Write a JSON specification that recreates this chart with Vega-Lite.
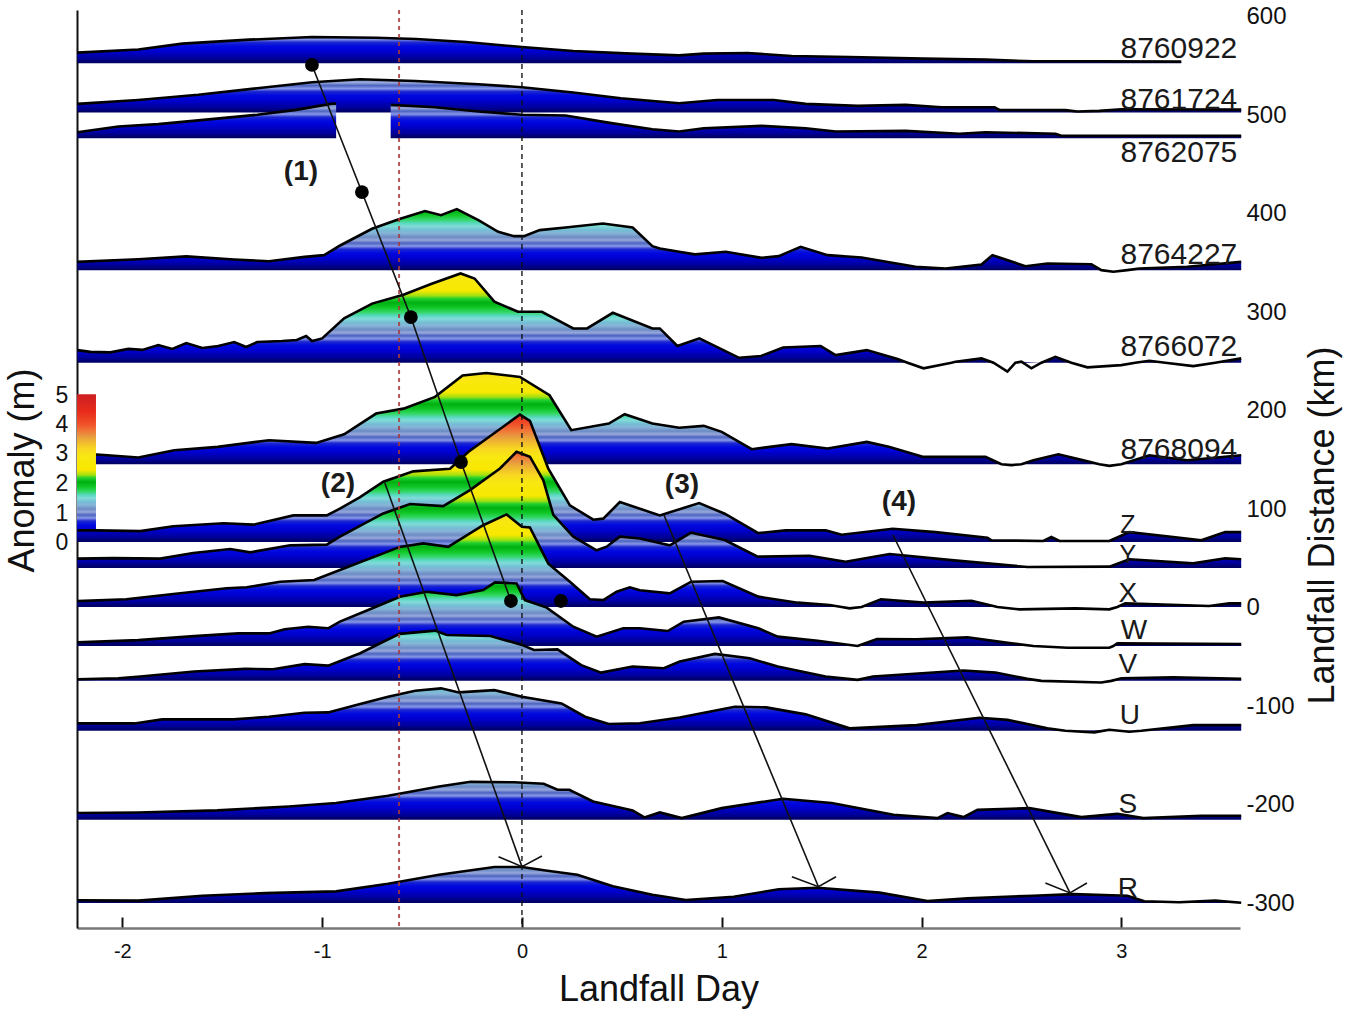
{"$schema":"https://vega.github.io/schema/vega-lite/v6.json","autosize":{"type":"none"},"padding":{"left":77,"top":10,"right":110,"bottom":87},"width":1163,"height":918,"background":"white","config":{"view":{"stroke":null},"font":"Liberation Sans"},
"datasets":{
"8760922":[{"d":-2.225,"km":563.8},{"d":-1.92,"km":567},{"d":-1.7,"km":573},{"d":-1.365,"km":577},{"d":-1.05,"km":579.7},{"d":-0.73,"km":579},{"d":-0.53,"km":577.7},{"d":-0.28,"km":574.6},{"d":0,"km":569.5},{"d":0.257,"km":565.5},{"d":0.55,"km":562.8},{"d":0.787,"km":561},{"d":0.91,"km":562.8},{"d":1.13,"km":563.5},{"d":1.35,"km":560.4},{"d":1.64,"km":559.4},{"d":2.01,"km":557.7},{"d":2.32,"km":556.7},{"d":2.56,"km":555},{"d":2.89,"km":555},{"d":3.3,"km":554.7}],
"8761724":[{"d":-2.225,"km":511.8},{"d":-1.92,"km":515.8},{"d":-1.62,"km":521},{"d":-1.325,"km":527.7},{"d":-1.05,"km":533.8},{"d":-0.81,"km":536.8},{"d":-0.534,"km":535},{"d":-0.218,"km":531.7},{"d":0,"km":528.7},{"d":0.257,"km":523.3},{"d":0.495,"km":517.5},{"d":0.787,"km":512.5},{"d":0.977,"km":515.8},{"d":1.26,"km":515.8},{"d":1.42,"km":511.8},{"d":1.68,"km":509.8},{"d":1.92,"km":510.8},{"d":2.1,"km":508.4},{"d":2.365,"km":508.4},{"d":2.39,"km":505.7},{"d":2.72,"km":505.4},{"d":2.78,"km":504},{"d":2.89,"km":504.7},{"d":3.0,"km":506.4},{"d":3.6,"km":506}],
"8762075a":[{"d":-2.225,"km":483},{"d":-2.02,"km":488.8},{"d":-1.82,"km":491.2},{"d":-1.62,"km":495},{"d":-1.325,"km":500.7},{"d":-1.13,"km":505.7},{"d":-0.95,"km":512},{"d":-0.93,"km":512}],
"8762075b":[{"d":-0.657,"km":510.8},{"d":-0.435,"km":508.4},{"d":-0.218,"km":504},{"d":0,"km":500.7},{"d":0.218,"km":500},{"d":0.455,"km":492},{"d":0.653,"km":486},{"d":0.787,"km":483.8},{"d":0.91,"km":487},{"d":1.2,"km":489.5},{"d":1.42,"km":487},{"d":1.57,"km":483.8},{"d":1.92,"km":484.4},{"d":2.19,"km":481.4},{"d":2.32,"km":483},{"d":2.67,"km":481.4},{"d":2.7,"km":479.4},{"d":3.6,"km":479.4}],
"8764227":[{"d":-2.225,"km":351.4},{"d":-1.92,"km":354},{"d":-1.68,"km":357},{"d":-1.44,"km":353.8},{"d":-1.266,"km":352},{"d":-1.088,"km":356.5},{"d":-0.99,"km":358.2},{"d":-0.91,"km":368},{"d":-0.75,"km":385},{"d":-0.613,"km":395},{"d":-0.485,"km":403},{"d":-0.405,"km":398.8},{"d":-0.326,"km":405},{"d":-0.218,"km":393.7},{"d":-0.119,"km":381.9},{"d":-0.04,"km":377.5},{"d":0.01,"km":377.5},{"d":0.089,"km":383.6},{"d":0.218,"km":386.3},{"d":0.405,"km":390.3},{"d":0.554,"km":386.3},{"d":0.653,"km":367.3},{"d":0.69,"km":365},{"d":0.787,"km":361.6},{"d":0.866,"km":359},{"d":1.02,"km":361.6},{"d":1.2,"km":355.5},{"d":1.285,"km":357.2},{"d":1.395,"km":366.7},{"d":1.53,"km":358.2},{"d":1.7,"km":355.8},{"d":1.97,"km":346.4},{"d":2.12,"km":344.7},{"d":2.3,"km":348.7},{"d":2.355,"km":358.2},{"d":2.52,"km":347},{"d":2.63,"km":349.8},{"d":2.85,"km":349},{"d":2.9,"km":343},{"d":2.96,"km":341.3},{"d":3.03,"km":343},{"d":3.09,"km":344.7},{"d":3.33,"km":346.4},{"d":3.6,"km":351.4}],
"8766072":[{"d":-2.225,"km":261.8},{"d":-2.16,"km":260},{"d":-2.06,"km":259.5},{"d":-1.97,"km":263},{"d":-1.9,"km":262},{"d":-1.82,"km":267},{"d":-1.75,"km":263},{"d":-1.68,"km":269},{"d":-1.6,"km":264},{"d":-1.52,"km":266},{"d":-1.44,"km":270},{"d":-1.38,"km":265},{"d":-1.325,"km":270},{"d":-1.2,"km":271},{"d":-1.127,"km":272},{"d":-1.08,"km":276},{"d":-1.05,"km":271},{"d":-1.0,"km":273.7},{"d":-0.89,"km":294},{"d":-0.75,"km":309},{"d":-0.593,"km":318},{"d":-0.455,"km":329},{"d":-0.307,"km":339.6},{"d":-0.237,"km":334.5},{"d":-0.138,"km":311},{"d":-0.02,"km":300.7},{"d":0.1,"km":300.7},{"d":0.257,"km":283.8},{"d":0.326,"km":283.8},{"d":0.455,"km":299.7},{"d":0.653,"km":283.8},{"d":0.69,"km":283.8},{"d":0.778,"km":266},{"d":0.888,"km":273.7},{"d":1.087,"km":254},{"d":1.197,"km":255.8},{"d":1.307,"km":264.5},{"d":1.495,"km":266},{"d":1.57,"km":256.8},{"d":1.726,"km":261.8},{"d":1.88,"km":252.7},{"d":1.93,"km":249},{"d":2.01,"km":243.3},{"d":2.15,"km":249},{"d":2.17,"km":250},{"d":2.3,"km":253.4},{"d":2.36,"km":249},{"d":2.43,"km":240},{"d":2.47,"km":249},{"d":2.5,"km":250},{"d":2.55,"km":243.3},{"d":2.6,"km":249},{"d":2.67,"km":255},{"d":2.75,"km":249},{"d":2.83,"km":244.3},{"d":3.0,"km":246.6},{"d":3.07,"km":249},{"d":3.14,"km":251},{"d":3.22,"km":249},{"d":3.36,"km":245.6},{"d":3.47,"km":249},{"d":3.6,"km":253.4}],
"8768094":[{"d":-2.225,"km":155.8},{"d":-2.127,"km":155.8},{"d":-1.92,"km":152.8},{"d":-1.74,"km":160.2},{"d":-1.523,"km":163.6},{"d":-1.266,"km":170.3},{"d":-1.03,"km":167.6},{"d":-0.89,"km":176.4},{"d":-0.73,"km":197.4},{"d":-0.593,"km":202.4},{"d":-0.435,"km":214.3},{"d":-0.297,"km":236},{"d":-0.178,"km":238.6},{"d":-0.01,"km":234.6},{"d":0.138,"km":216},{"d":0.247,"km":180.5},{"d":0.435,"km":187.2},{"d":0.514,"km":196.7},{"d":0.653,"km":187.2},{"d":0.787,"km":183},{"d":0.91,"km":184.9},{"d":1.0,"km":178.8},{"d":1.15,"km":161.2},{"d":1.35,"km":166.3},{"d":1.53,"km":161.9},{"d":1.726,"km":168.6},{"d":1.836,"km":163.6},{"d":2.01,"km":153.4},{"d":2.32,"km":153.4},{"d":2.4,"km":146},{"d":2.45,"km":145},{"d":2.5,"km":146},{"d":2.56,"km":150},{"d":2.685,"km":156},{"d":2.81,"km":150},{"d":2.89,"km":146},{"d":2.94,"km":144.3},{"d":3.0,"km":146},{"d":3.14,"km":155},{"d":3.33,"km":150},{"d":3.6,"km":155}],
"Z":[{"d":-2.225,"km":78.8},{"d":-2.13,"km":78.8},{"d":-1.91,"km":78},{"d":-1.745,"km":83},{"d":-1.494,"km":86},{"d":-1.344,"km":84.6},{"d":-1.144,"km":94},{"d":-0.977,"km":94},{"d":-0.911,"km":100.8},{"d":-0.81,"km":112.6},{"d":-0.694,"km":128.2},{"d":-0.544,"km":138.7},{"d":-0.36,"km":141.4},{"d":-0.269,"km":158.3},{"d":-0.01,"km":196.4},{"d":0.04,"km":190},{"d":0.132,"km":141.4},{"d":0.24,"km":104.2},{"d":0.357,"km":89.6},{"d":0.407,"km":90.7},{"d":0.49,"km":107.6},{"d":0.69,"km":94},{"d":0.887,"km":106.5},{"d":1.015,"km":95.7},{"d":1.183,"km":76},{"d":1.32,"km":78.8},{"d":1.52,"km":78.8},{"d":1.6,"km":74.4},{"d":1.856,"km":80.5},{"d":2.07,"km":77},{"d":2.33,"km":71.4},{"d":2.35,"km":68.7},{"d":2.61,"km":68},{"d":2.65,"km":72},{"d":2.69,"km":68},{"d":2.94,"km":68},{"d":3.04,"km":77},{"d":3.26,"km":72},{"d":3.4,"km":68.7},{"d":3.52,"km":77},{"d":3.6,"km":77}],
"Y":[{"d":-2.225,"km":50.1},{"d":-2.045,"km":50.6},{"d":-1.81,"km":50.1},{"d":-1.645,"km":55.8},{"d":-1.46,"km":59.9},{"d":-1.36,"km":56.5},{"d":-1.16,"km":63.6},{"d":-0.977,"km":64.3},{"d":-0.911,"km":72.4},{"d":-0.694,"km":96},{"d":-0.56,"km":105.5},{"d":-0.394,"km":103.4},{"d":-0.26,"km":119.6},{"d":-0.11,"km":141.6},{"d":-0.027,"km":158.6},{"d":0.04,"km":153.6},{"d":0.107,"km":129.6},{"d":0.157,"km":94.6},{"d":0.257,"km":72.4},{"d":0.374,"km":58.6},{"d":0.424,"km":62.2},{"d":0.49,"km":72.4},{"d":0.59,"km":70.6},{"d":0.74,"km":63.6},{"d":0.847,"km":76.4},{"d":1.015,"km":69},{"d":1.18,"km":52.1},{"d":1.44,"km":53.1},{"d":1.62,"km":47},{"d":1.84,"km":54.8},{"d":2.15,"km":48.6},{"d":2.53,"km":41.6},{"d":2.94,"km":42},{"d":3.04,"km":49.4},{"d":3.36,"km":45.3},{"d":3.52,"km":50.4},{"d":3.6,"km":49.4}],
"X":[{"d":-2.225,"km":7},{"d":-1.98,"km":8.8},{"d":-1.745,"km":14.2},{"d":-1.478,"km":20},{"d":-1.378,"km":21},{"d":-1.21,"km":26.7},{"d":-1.04,"km":28.4},{"d":-0.911,"km":38.5},{"d":-0.611,"km":62},{"d":-0.494,"km":65.6},{"d":-0.369,"km":62},{"d":-0.194,"km":84},{"d":-0.077,"km":95},{"d":0,"km":82.5},{"d":0.04,"km":81.8},{"d":0.132,"km":45},{"d":0.24,"km":26.7},{"d":0.34,"km":8.8},{"d":0.407,"km":8},{"d":0.474,"km":16.5},{"d":0.54,"km":21},{"d":0.59,"km":18},{"d":0.74,"km":14.9},{"d":0.847,"km":26.7},{"d":1.005,"km":27.4},{"d":1.183,"km":11.5},{"d":1.38,"km":5.4},{"d":1.54,"km":3},{"d":1.6,"km":1},{"d":1.64,"km":-0.4},{"d":1.7,"km":1},{"d":1.797,"km":8.8},{"d":2.01,"km":5.4},{"d":2.25,"km":7.4},{"d":2.38,"km":1},{"d":2.49,"km":-1.4},{"d":2.77,"km":-0.4},{"d":2.94,"km":-1.4},{"d":2.98,"km":1},{"d":3.02,"km":4.7},{"d":3.44,"km":2},{"d":3.54,"km":4.7},{"d":3.6,"km":4.7}],
"W":[{"d":-2.225,"km":-34.9},{"d":-1.92,"km":-32.6},{"d":-1.64,"km":-28.6},{"d":-1.42,"km":-25.8},{"d":-1.266,"km":-25.8},{"d":-1.187,"km":-21.6},{"d":-1.07,"km":-19},{"d":-0.97,"km":-20.6},{"d":-0.911,"km":-13.9},{"d":-0.77,"km":-2.1},{"d":-0.67,"km":6.4},{"d":-0.611,"km":11.4},{"d":-0.477,"km":16.4},{"d":-0.327,"km":13.1},{"d":-0.194,"km":18.2},{"d":-0.135,"km":26},{"d":-0.027,"km":24.9},{"d":0.015,"km":8},{"d":0.124,"km":0.4},{"d":0.257,"km":-19},{"d":0.374,"km":-29.1},{"d":0.507,"km":-20.6},{"d":0.59,"km":-20.6},{"d":0.73,"km":-23.4},{"d":0.81,"km":-13.9},{"d":0.986,"km":-9.6},{"d":1.183,"km":-20.6},{"d":1.28,"km":-29.1},{"d":1.48,"km":-33.2},{"d":1.68,"km":-38.6},{"d":1.777,"km":-31.6},{"d":1.975,"km":-31.8},{"d":2.23,"km":-29.8},{"d":2.45,"km":-35.9},{"d":2.56,"km":-38.6},{"d":2.73,"km":-40.3},{"d":2.94,"km":-40.3},{"d":2.96,"km":-38.6},{"d":2.98,"km":-35.9},{"d":3.6,"km":-36.6}],
"V":[{"d":-2.225,"km":-72.3},{"d":-2.02,"km":-71.3},{"d":-1.91,"km":-69.6},{"d":-1.64,"km":-64.5},{"d":-1.385,"km":-61.8},{"d":-1.246,"km":-62.2},{"d":-1.088,"km":-57},{"d":-0.97,"km":-58.5},{"d":-0.81,"km":-46},{"d":-0.613,"km":-26.3},{"d":-0.435,"km":-23},{"d":-0.376,"km":-27.4},{"d":-0.158,"km":-28.4},{"d":0,"km":-37.5},{"d":0.06,"km":-42.6},{"d":0.178,"km":-42},{"d":0.297,"km":-58},{"d":0.396,"km":-65.6},{"d":0.554,"km":-59.5},{"d":0.71,"km":-61.2},{"d":0.79,"km":-54.4},{"d":0.966,"km":-46.6},{"d":1.14,"km":-51},{"d":1.28,"km":-59.5},{"d":1.52,"km":-69.6},{"d":1.68,"km":-73},{"d":1.757,"km":-69.6},{"d":2.21,"km":-63.5},{"d":2.37,"km":-65.6},{"d":2.53,"km":-72},{"d":2.6,"km":-74},{"d":2.9,"km":-75.7},{"d":2.95,"km":-74},{"d":3.0,"km":-71.3},{"d":3.26,"km":-70.3},{"d":3.6,"km":-72}],
"U":[{"d":-2.225,"km":-117.2},{"d":-1.94,"km":-117.2},{"d":-1.8,"km":-113.1},{"d":-1.444,"km":-113.1},{"d":-1.266,"km":-110.4},{"d":-1.088,"km":-106.3},{"d":-0.97,"km":-106},{"d":-0.81,"km":-97.6},{"d":-0.67,"km":-90.1},{"d":-0.534,"km":-84},{"d":-0.405,"km":-81.6},{"d":-0.316,"km":-85.7},{"d":-0.138,"km":-83.4},{"d":0,"km":-90.1},{"d":0.198,"km":-96.9},{"d":0.316,"km":-110.4},{"d":0.435,"km":-117.8},{"d":0.59,"km":-117},{"d":0.79,"km":-111.1},{"d":1.065,"km":-100.3},{"d":1.223,"km":-100.9},{"d":1.42,"km":-108},{"d":1.64,"km":-122.2},{"d":1.975,"km":-118.9},{"d":2.29,"km":-111.4},{"d":2.43,"km":-113.6},{"d":2.63,"km":-122.2},{"d":2.72,"km":-124.6},{"d":2.865,"km":-126.3},{"d":2.94,"km":-123.6},{"d":3.04,"km":-125.6},{"d":3.1,"km":-124.6},{"d":3.36,"km":-118.9},{"d":3.6,"km":-118.9}],
"S":[{"d":-2.225,"km":-208.2},{"d":-1.92,"km":-207.6},{"d":-1.525,"km":-205.5},{"d":-1.167,"km":-201.5},{"d":-0.93,"km":-198},{"d":-0.67,"km":-190.7},{"d":-0.415,"km":-181.2},{"d":-0.257,"km":-176.5},{"d":-0.04,"km":-177},{"d":0.109,"km":-178.5},{"d":0.178,"km":-184.6},{"d":0.237,"km":-184.6},{"d":0.356,"km":-196.4},{"d":0.554,"km":-205.5},{"d":0.613,"km":-212.6},{"d":0.69,"km":-207.6},{"d":0.8,"km":-213.3},{"d":1.0,"km":-203.2},{"d":1.307,"km":-193.7},{"d":1.55,"km":-198},{"d":1.86,"km":-210},{"d":2.08,"km":-213.3},{"d":2.13,"km":-208.2},{"d":2.21,"km":-212.3},{"d":2.28,"km":-205},{"d":2.54,"km":-203.2},{"d":2.8,"km":-212.3},{"d":2.98,"km":-209},{"d":3.11,"km":-213.3},{"d":3.4,"km":-211},{"d":3.6,"km":-211}],
"R":[{"d":-2.225,"km":-296.8},{"d":-1.92,"km":-297.1},{"d":-1.6,"km":-292.1},{"d":-1.286,"km":-289.5},{"d":-0.93,"km":-287.7},{"d":-0.67,"km":-279.9},{"d":-0.415,"km":-270.8},{"d":-0.138,"km":-263},{"d":0,"km":-263},{"d":0.119,"km":-266.5},{"d":0.277,"km":-270.8},{"d":0.455,"km":-282.5},{"d":0.653,"km":-291.1},{"d":0.82,"km":-296.5},{"d":1.06,"km":-293.1},{"d":1.285,"km":-285.6},{"d":1.48,"km":-284},{"d":1.79,"km":-289},{"d":2.03,"km":-297.5},{"d":2.23,"km":-294.8},{"d":2.56,"km":-292.1},{"d":2.76,"km":-290.5},{"d":3.03,"km":-292.1},{"d":3.115,"km":-297.8},{"d":3.29,"km":-298.8},{"d":3.47,"km":-297.1},{"d":3.6,"km":-299.2}],
"tracks":[{"t":"1","d":-1.051,"km":551.3},{"t":"1","d":-0.801,"km":422.3},{"t":"1","d":-0.556,"km":295.4},{"t":"1","d":-0.305,"km":148.2},{"t":"1","d":-0.055,"km":7.1},{"t":"2","d":-0.686,"km":126.9},{"t":"2","d":0,"km":-262.6},{"t":"3","d":0.711,"km":94.4},{"t":"3","d":1.484,"km":-283},{"t":"4","d":1.857,"km":74.1},{"t":"4","d":2.743,"km":-289.3},{"t":"2a","d":-0.117,"km":-252.5},{"t":"2a","d":0,"km":-262.6},{"t":"2a","d":0.1,"km":-251.8},{"t":"3a","d":1.351,"km":-272.8},{"t":"3a","d":1.484,"km":-283},{"t":"3a","d":1.572,"km":-272.8},{"t":"4a","d":2.62,"km":-279.2},{"t":"4a","d":2.743,"km":-289.3},{"t":"4a","d":2.828,"km":-279.2}],
"dots":[{"d":-1.051,"km":551.3},{"d":-0.801,"km":422.3},{"d":-0.556,"km":295.4},{"d":-0.305,"km":148.2},{"d":-0.055,"km":7.1},{"d":0.195,"km":7.1}],
"stations":[{"t":"8760922","d":3.288,"km":567.5},{"t":"8761724","d":3.288,"km":515.7},{"t":"8762075","d":3.288,"km":461.9},{"t":"8764227","d":3.288,"km":358.4},{"t":"8766072","d":3.288,"km":265},{"t":"8768094","d":3.288,"km":160.4}],
"lettersZY":[{"t":"Z","d":3.033,"km":84},{"t":"Y","d":3.033,"km":54}],
"letters":[{"t":"X","d":3.033,"km":14.2},{"t":"W","d":3.063,"km":-23.4},{"t":"V","d":3.033,"km":-57.9},{"t":"U","d":3.043,"km":-109.6},{"t":"S","d":3.033,"km":-200},{"t":"R","d":3.033,"km":-285.3}],
"notes":[{"t":"(1)","d":-1.106,"km":442.6},{"t":"(2)","d":-0.921,"km":125.9},{"t":"(3)","d":0.801,"km":124.9},{"t":"(4)","d":1.887,"km":107.6}],
"barlabels":[{"t":"5","d":-2.302,"km":215.2},{"t":"4","d":-2.302,"km":185.8},{"t":"3","d":-2.302,"km":156.3},{"t":"2","d":-2.302,"km":125.9},{"t":"1","d":-2.302,"km":95.4},{"t":"0","d":-2.302,"km":66}]
},
"encoding":{"x":{"field":"d","type":"quantitative","scale":{"domain":[-2.227,3.594],"nice":false,"zero":false},"axis":{"title":"Landfall Day","values":[-2,-1,0,1,2,3],"labelExpr":"''+datum.value","grid":false,"domainColor":"#777777","domainWidth":2.5,"tickColor":"#111111","tickWidth":2,"tickSize":-11,"labelFontSize":20,"labelColor":"#111111","labelPadding":24,"labelFont":"Liberation Sans","titleFont":"Liberation Sans","titleFontSize":36,"titleFontWeight":"normal","titleColor":"#111111","titleY":72,"titleBaseline":"alphabetic"}},"y":{"field":"km","type":"quantitative","scale":{"domain":[-324.9,607.1],"nice":false,"zero":false},"axis":null}},
"resolve":{"axis":{"y":"independent"}},
"layer":[
{"data":{"name":"8760922"},"transform":[{"filter":{"field":"km","gte":553}}],"mark":{"type":"area","orient":"vertical","fill":{"gradient":"linear","x1":0,"y1":1,"x2":0,"y2":0,"stops":[{"offset":0,"color":"#000066"},{"offset":0.038,"color":"#000066"},{"offset":0.19,"color":"#00009a"},{"offset":0.342,"color":"#0000b8"},{"offset":0.456,"color":"#0000d0"},{"offset":0.646,"color":"#0008e0"},{"offset":0.798,"color":"#1c28d0"},{"offset":0.913,"color":"#8898e8"},{"offset":1,"color":"#5a70c8"}]}},"encoding":{"y":{"field":"km","type":"quantitative","scale":{"domain":[-324.9,607.1],"nice":false,"zero":false},"axis":{"orient":"left","title":"Anomaly (m)","labels":false,"ticks":false,"grid":false,"domainColor":"#111111","domainWidth":2,"titleFont":"Liberation Sans","titleFontSize":36,"titleFontWeight":"normal","titleColor":"#111111","titleAngle":270,"titleX":-55,"titleY":460,"titleAlign":"center","titleBaseline":"middle"}},"y2":{"datum":553}}},
{"data":{"name":"8760922"},"mark":{"type":"line","color":"#000000","strokeWidth":2.6},"encoding":{"y":{"field":"km","type":"quantitative","scale":{"domain":[-324.9,607.1],"nice":false,"zero":false},"axis":{"orient":"right","title":"Landfall Distance (km)","values":[-300,-200,-100,0,100,200,300,400,500,600],"labelExpr":"''+datum.value","ticks":false,"domain":false,"grid":false,"labelFont":"Liberation Sans","labelFontSize":24,"labelColor":"#111111","labelPadding":6,"labelAlign":"left","titleFont":"Liberation Sans","titleFontSize":36,"titleFontWeight":"normal","titleColor":"#111111","titleAngle":270,"titleX":82,"titleY":515,"titleAlign":"center","titleBaseline":"middle"}}}},
{"data":{"name":"8761724"},"transform":[{"filter":{"field":"km","gte":503}}],"mark":{"type":"area","orient":"vertical","fill":{"gradient":"linear","x1":0,"y1":1,"x2":0,"y2":0,"stops":[{"offset":0,"color":"#000066"},{"offset":0.03,"color":"#000066"},{"offset":0.15,"color":"#00009a"},{"offset":0.27,"color":"#0000b8"},{"offset":0.36,"color":"#0000d0"},{"offset":0.51,"color":"#0008e0"},{"offset":0.63,"color":"#1c28d0"},{"offset":0.72,"color":"#8898e8"},{"offset":0.81,"color":"#4c64c0"},{"offset":0.9,"color":"#98a8dc"},{"offset":0.99,"color":"#6c8cc4"},{"offset":1,"color":"#6c8cc4"}]}},"encoding":{"y2":{"datum":503}}},
{"data":{"name":"8761724"},"mark":{"type":"line","color":"#000000","strokeWidth":2.6}},
{"data":{"name":"8762075a"},"transform":[{"filter":{"field":"km","gte":477}}],"mark":{"type":"area","orient":"vertical","fill":{"gradient":"linear","x1":0,"y1":1,"x2":0,"y2":0,"stops":[{"offset":0,"color":"#000066"},{"offset":0.029,"color":"#000066"},{"offset":0.145,"color":"#00009a"},{"offset":0.261,"color":"#0000b8"},{"offset":0.348,"color":"#0000d0"},{"offset":0.493,"color":"#0008e0"},{"offset":0.609,"color":"#1c28d0"},{"offset":0.696,"color":"#8898e8"},{"offset":0.783,"color":"#4c64c0"},{"offset":0.87,"color":"#98a8dc"},{"offset":0.957,"color":"#6c8cc4"},{"offset":1,"color":"#7a9ccc"}]}},"encoding":{"y2":{"datum":477}}},
{"data":{"name":"8762075a"},"mark":{"type":"line","color":"#000000","strokeWidth":2.6}},
{"data":{"name":"8762075b"},"transform":[{"filter":{"field":"km","gte":477}}],"mark":{"type":"area","orient":"vertical","fill":{"gradient":"linear","x1":0,"y1":1,"x2":0,"y2":0,"stops":[{"offset":0,"color":"#000066"},{"offset":0.03,"color":"#000066"},{"offset":0.15,"color":"#00009a"},{"offset":0.27,"color":"#0000b8"},{"offset":0.36,"color":"#0000d0"},{"offset":0.51,"color":"#0008e0"},{"offset":0.63,"color":"#1c28d0"},{"offset":0.72,"color":"#8898e8"},{"offset":0.81,"color":"#4c64c0"},{"offset":0.9,"color":"#98a8dc"},{"offset":0.99,"color":"#6c8cc4"},{"offset":1,"color":"#6c8cc4"}]}},"encoding":{"y2":{"datum":477}}},
{"data":{"name":"8762075b"},"mark":{"type":"line","color":"#000000","strokeWidth":2.6}},
{"data":{"name":"8764227"},"transform":[{"filter":{"field":"km","gte":343}}],"mark":{"type":"area","orient":"vertical","fill":{"gradient":"linear","x1":0,"y1":1,"x2":0,"y2":0,"stops":[{"offset":0,"color":"#000066"},{"offset":0.016,"color":"#000066"},{"offset":0.082,"color":"#00009a"},{"offset":0.147,"color":"#0000b8"},{"offset":0.196,"color":"#0000d0"},{"offset":0.278,"color":"#0008e0"},{"offset":0.344,"color":"#1c28d0"},{"offset":0.393,"color":"#8898e8"},{"offset":0.442,"color":"#4c64c0"},{"offset":0.491,"color":"#98a8dc"},{"offset":0.54,"color":"#6c8cc4"},{"offset":0.606,"color":"#88b4d8"},{"offset":0.655,"color":"#74bcd4"},{"offset":0.72,"color":"#80dcd8"},{"offset":0.769,"color":"#58d8c0"},{"offset":0.818,"color":"#38d870"},{"offset":0.9,"color":"#10c828"},{"offset":0.982,"color":"#00b010"},{"offset":1,"color":"#00b010"}]}},"encoding":{"y2":{"datum":343}}},
{"data":{"name":"8764227"},"mark":{"type":"line","color":"#000000","strokeWidth":2.6}},
{"data":{"name":"8766072"},"transform":[{"filter":{"field":"km","gte":249}}],"mark":{"type":"area","orient":"vertical","fill":{"gradient":"linear","x1":0,"y1":1,"x2":0,"y2":0,"stops":[{"offset":0,"color":"#000066"},{"offset":0.011,"color":"#000066"},{"offset":0.056,"color":"#00009a"},{"offset":0.101,"color":"#0000b8"},{"offset":0.135,"color":"#0000d0"},{"offset":0.191,"color":"#0008e0"},{"offset":0.235,"color":"#1c28d0"},{"offset":0.269,"color":"#8898e8"},{"offset":0.303,"color":"#4c64c0"},{"offset":0.336,"color":"#98a8dc"},{"offset":0.37,"color":"#6c8cc4"},{"offset":0.415,"color":"#88b4d8"},{"offset":0.448,"color":"#74bcd4"},{"offset":0.493,"color":"#80dcd8"},{"offset":0.527,"color":"#58d8c0"},{"offset":0.561,"color":"#38d870"},{"offset":0.617,"color":"#10c828"},{"offset":0.673,"color":"#00b010"},{"offset":0.717,"color":"#20d030"},{"offset":0.751,"color":"#a0e010"},{"offset":0.807,"color":"#f8e800"},{"offset":0.953,"color":"#f8e810"},{"offset":1,"color":"#f8e010"}]}},"encoding":{"y2":{"datum":249}}},
{"data":{"name":"8766072"},"mark":{"type":"line","color":"#000000","strokeWidth":2.6}},
{"data":{"name":"8768094"},"transform":[{"filter":{"field":"km","gte":146}}],"mark":{"type":"area","orient":"vertical","fill":{"gradient":"linear","x1":0,"y1":1,"x2":0,"y2":0,"stops":[{"offset":0,"color":"#000066"},{"offset":0.011,"color":"#000066"},{"offset":0.055,"color":"#00009a"},{"offset":0.099,"color":"#0000b8"},{"offset":0.132,"color":"#0000d0"},{"offset":0.186,"color":"#0008e0"},{"offset":0.23,"color":"#1c28d0"},{"offset":0.263,"color":"#8898e8"},{"offset":0.296,"color":"#4c64c0"},{"offset":0.329,"color":"#98a8dc"},{"offset":0.362,"color":"#6c8cc4"},{"offset":0.406,"color":"#88b4d8"},{"offset":0.439,"color":"#74bcd4"},{"offset":0.482,"color":"#80dcd8"},{"offset":0.515,"color":"#58d8c0"},{"offset":0.548,"color":"#38d870"},{"offset":0.603,"color":"#10c828"},{"offset":0.658,"color":"#00b010"},{"offset":0.702,"color":"#20d030"},{"offset":0.735,"color":"#a0e010"},{"offset":0.789,"color":"#f8e800"},{"offset":0.932,"color":"#f8e810"},{"offset":1,"color":"#f8dc18"}]}},"encoding":{"y2":{"datum":146}}},
{"data":{"name":"8768094"},"mark":{"type":"line","color":"#000000","strokeWidth":2.6}},
{"data":{"values":[{"d0":-2.227,"d1":-2.132,"k0":67,"k1":217}]},"mark":{"type":"rect","fill":{"gradient":"linear","x1":0,"y1":1,"x2":0,"y2":0,"stops":[{"offset":0,"color":"#000066"},{"offset":0.007,"color":"#000066"},{"offset":0.034,"color":"#00009a"},{"offset":0.061,"color":"#0000b8"},{"offset":0.081,"color":"#0000d0"},{"offset":0.115,"color":"#0008e0"},{"offset":0.142,"color":"#1c28d0"},{"offset":0.162,"color":"#8898e8"},{"offset":0.183,"color":"#4c64c0"},{"offset":0.203,"color":"#98a8dc"},{"offset":0.223,"color":"#6c8cc4"},{"offset":0.25,"color":"#88b4d8"},{"offset":0.27,"color":"#74bcd4"},{"offset":0.298,"color":"#80dcd8"},{"offset":0.318,"color":"#58d8c0"},{"offset":0.338,"color":"#38d870"},{"offset":0.372,"color":"#10c828"},{"offset":0.406,"color":"#00b010"},{"offset":0.433,"color":"#20d030"},{"offset":0.453,"color":"#a0e010"},{"offset":0.487,"color":"#f8e800"},{"offset":0.575,"color":"#f8e810"},{"offset":0.629,"color":"#f8d820"},{"offset":0.677,"color":"#f0b830"},{"offset":0.717,"color":"#e89840"},{"offset":0.751,"color":"#f07838"},{"offset":0.799,"color":"#f05028"},{"offset":0.88,"color":"#e82c1c"},{"offset":0.981,"color":"#d02020"},{"offset":1,"color":"#d02020"}]}},"encoding":{"x":{"field":"d0","type":"quantitative"},"x2":{"field":"d1"},"y":{"field":"k0","type":"quantitative","axis":null},"y2":{"field":"k1"}}},
{"data":{"name":"Z"},"transform":[{"filter":{"field":"km","gte":67}}],"mark":{"type":"area","orient":"vertical","fill":{"gradient":"linear","x1":0,"y1":1,"x2":0,"y2":0,"stops":[{"offset":0,"color":"#000066"},{"offset":0.008,"color":"#000066"},{"offset":0.039,"color":"#00009a"},{"offset":0.071,"color":"#0000b8"},{"offset":0.094,"color":"#0000d0"},{"offset":0.133,"color":"#0008e0"},{"offset":0.165,"color":"#1c28d0"},{"offset":0.188,"color":"#8898e8"},{"offset":0.212,"color":"#4c64c0"},{"offset":0.235,"color":"#98a8dc"},{"offset":0.259,"color":"#6c8cc4"},{"offset":0.29,"color":"#88b4d8"},{"offset":0.314,"color":"#74bcd4"},{"offset":0.345,"color":"#80dcd8"},{"offset":0.369,"color":"#58d8c0"},{"offset":0.392,"color":"#38d870"},{"offset":0.431,"color":"#10c828"},{"offset":0.471,"color":"#00b010"},{"offset":0.502,"color":"#20d030"},{"offset":0.525,"color":"#a0e010"},{"offset":0.565,"color":"#f8e800"},{"offset":0.667,"color":"#f8e810"},{"offset":0.729,"color":"#f8d820"},{"offset":0.784,"color":"#f0b830"},{"offset":0.831,"color":"#e89840"},{"offset":0.871,"color":"#f07838"},{"offset":0.925,"color":"#f05028"},{"offset":1,"color":"#e83020"}]}},"encoding":{"y2":{"datum":67}}},
{"data":{"name":"Z"},"mark":{"type":"line","color":"#000000","strokeWidth":2.6}},
{"data":{"name":"Y"},"transform":[{"filter":{"field":"km","gte":40.6}}],"mark":{"type":"area","orient":"vertical","fill":{"gradient":"linear","x1":0,"y1":1,"x2":0,"y2":0,"stops":[{"offset":0,"color":"#000066"},{"offset":0.009,"color":"#000066"},{"offset":0.043,"color":"#00009a"},{"offset":0.077,"color":"#0000b8"},{"offset":0.103,"color":"#0000d0"},{"offset":0.146,"color":"#0008e0"},{"offset":0.181,"color":"#1c28d0"},{"offset":0.207,"color":"#8898e8"},{"offset":0.232,"color":"#4c64c0"},{"offset":0.258,"color":"#98a8dc"},{"offset":0.284,"color":"#6c8cc4"},{"offset":0.318,"color":"#88b4d8"},{"offset":0.344,"color":"#74bcd4"},{"offset":0.379,"color":"#80dcd8"},{"offset":0.404,"color":"#58d8c0"},{"offset":0.43,"color":"#38d870"},{"offset":0.473,"color":"#10c828"},{"offset":0.516,"color":"#00b010"},{"offset":0.551,"color":"#20d030"},{"offset":0.577,"color":"#a0e010"},{"offset":0.62,"color":"#f8e800"},{"offset":0.731,"color":"#f8e810"},{"offset":0.8,"color":"#f8d820"},{"offset":0.861,"color":"#f0b830"},{"offset":0.912,"color":"#e89840"},{"offset":0.955,"color":"#f07838"},{"offset":1,"color":"#f05028"}]}},"encoding":{"y2":{"datum":40.6}}},
{"data":{"name":"Y"},"mark":{"type":"line","color":"#000000","strokeWidth":2.6}},
{"data":{"name":"X"},"transform":[{"filter":{"field":"km","gte":1}}],"mark":{"type":"area","orient":"vertical","fill":{"gradient":"linear","x1":0,"y1":1,"x2":0,"y2":0,"stops":[{"offset":0,"color":"#000066"},{"offset":0.011,"color":"#000066"},{"offset":0.054,"color":"#00009a"},{"offset":0.097,"color":"#0000b8"},{"offset":0.13,"color":"#0000d0"},{"offset":0.184,"color":"#0008e0"},{"offset":0.227,"color":"#1c28d0"},{"offset":0.259,"color":"#8898e8"},{"offset":0.292,"color":"#4c64c0"},{"offset":0.324,"color":"#98a8dc"},{"offset":0.356,"color":"#6c8cc4"},{"offset":0.4,"color":"#88b4d8"},{"offset":0.432,"color":"#74bcd4"},{"offset":0.475,"color":"#80dcd8"},{"offset":0.508,"color":"#58d8c0"},{"offset":0.54,"color":"#38d870"},{"offset":0.594,"color":"#10c828"},{"offset":0.648,"color":"#00b010"},{"offset":0.691,"color":"#20d030"},{"offset":0.724,"color":"#a0e010"},{"offset":0.778,"color":"#f8e800"},{"offset":0.918,"color":"#f8e810"},{"offset":1,"color":"#f8d820"}]}},"encoding":{"y2":{"datum":1}}},
{"data":{"name":"X"},"mark":{"type":"line","color":"#000000","strokeWidth":2.6}},
{"data":{"name":"W"},"transform":[{"filter":{"field":"km","gte":-38.6}}],"mark":{"type":"area","orient":"vertical","fill":{"gradient":"linear","x1":0,"y1":1,"x2":0,"y2":0,"stops":[{"offset":0,"color":"#000066"},{"offset":0.016,"color":"#000066"},{"offset":0.079,"color":"#00009a"},{"offset":0.142,"color":"#0000b8"},{"offset":0.189,"color":"#0000d0"},{"offset":0.267,"color":"#0008e0"},{"offset":0.33,"color":"#1c28d0"},{"offset":0.377,"color":"#8898e8"},{"offset":0.425,"color":"#4c64c0"},{"offset":0.472,"color":"#98a8dc"},{"offset":0.519,"color":"#6c8cc4"},{"offset":0.582,"color":"#88b4d8"},{"offset":0.629,"color":"#74bcd4"},{"offset":0.692,"color":"#80dcd8"},{"offset":0.739,"color":"#58d8c0"},{"offset":0.786,"color":"#38d870"},{"offset":0.865,"color":"#10c828"},{"offset":0.943,"color":"#00b010"},{"offset":1,"color":"#20d030"}]}},"encoding":{"y2":{"datum":-38.6}}},
{"data":{"name":"W"},"mark":{"type":"line","color":"#000000","strokeWidth":2.6}},
{"data":{"name":"V"},"transform":[{"filter":{"field":"km","gte":-74}}],"mark":{"type":"area","orient":"vertical","fill":{"gradient":"linear","x1":0,"y1":1,"x2":0,"y2":0,"stops":[{"offset":0,"color":"#000066"},{"offset":0.02,"color":"#000066"},{"offset":0.1,"color":"#00009a"},{"offset":0.179,"color":"#0000b8"},{"offset":0.239,"color":"#0000d0"},{"offset":0.339,"color":"#0008e0"},{"offset":0.418,"color":"#1c28d0"},{"offset":0.478,"color":"#8898e8"},{"offset":0.538,"color":"#4c64c0"},{"offset":0.598,"color":"#98a8dc"},{"offset":0.657,"color":"#6c8cc4"},{"offset":0.737,"color":"#88b4d8"},{"offset":0.797,"color":"#74bcd4"},{"offset":0.876,"color":"#80dcd8"},{"offset":0.936,"color":"#58d8c0"},{"offset":1,"color":"#38d870"}]}},"encoding":{"y2":{"datum":-74}}},
{"data":{"name":"V"},"mark":{"type":"line","color":"#000000","strokeWidth":2.6}},
{"data":{"name":"U"},"transform":[{"filter":{"field":"km","gte":-124.6}}],"mark":{"type":"area","orient":"vertical","fill":{"gradient":"linear","x1":0,"y1":1,"x2":0,"y2":0,"stops":[{"offset":0,"color":"#000066"},{"offset":0.024,"color":"#000066"},{"offset":0.118,"color":"#00009a"},{"offset":0.212,"color":"#0000b8"},{"offset":0.283,"color":"#0000d0"},{"offset":0.401,"color":"#0008e0"},{"offset":0.495,"color":"#1c28d0"},{"offset":0.566,"color":"#8898e8"},{"offset":0.637,"color":"#4c64c0"},{"offset":0.708,"color":"#98a8dc"},{"offset":0.778,"color":"#6c8cc4"},{"offset":0.873,"color":"#88b4d8"},{"offset":0.943,"color":"#74bcd4"},{"offset":1,"color":"#7cd0d6"}]}},"encoding":{"y2":{"datum":-124.6}}},
{"data":{"name":"U"},"mark":{"type":"line","color":"#000000","strokeWidth":2.6}},
{"data":{"name":"S"},"transform":[{"filter":{"field":"km","gte":-215}}],"mark":{"type":"area","orient":"vertical","fill":{"gradient":"linear","x1":0,"y1":1,"x2":0,"y2":0,"stops":[{"offset":0,"color":"#000066"},{"offset":0.026,"color":"#000066"},{"offset":0.132,"color":"#00009a"},{"offset":0.237,"color":"#0000b8"},{"offset":0.317,"color":"#0000d0"},{"offset":0.449,"color":"#0008e0"},{"offset":0.554,"color":"#1c28d0"},{"offset":0.633,"color":"#8898e8"},{"offset":0.712,"color":"#4c64c0"},{"offset":0.792,"color":"#98a8dc"},{"offset":0.871,"color":"#6c8cc4"},{"offset":0.976,"color":"#88b4d8"},{"offset":1,"color":"#80b8d6"}]}},"encoding":{"y2":{"datum":-215}}},
{"data":{"name":"S"},"mark":{"type":"line","color":"#000000","strokeWidth":2.6}},
{"data":{"name":"R"},"transform":[{"filter":{"field":"km","gte":-299.5}}],"mark":{"type":"area","orient":"vertical","fill":{"gradient":"linear","x1":0,"y1":1,"x2":0,"y2":0,"stops":[{"offset":0,"color":"#000066"},{"offset":0.028,"color":"#000066"},{"offset":0.139,"color":"#00009a"},{"offset":0.25,"color":"#0000b8"},{"offset":0.333,"color":"#0000d0"},{"offset":0.472,"color":"#0008e0"},{"offset":0.583,"color":"#1c28d0"},{"offset":0.667,"color":"#8898e8"},{"offset":0.75,"color":"#4c64c0"},{"offset":0.833,"color":"#98a8dc"},{"offset":0.917,"color":"#6c8cc4"},{"offset":1,"color":"#88b4d8"}]}},"encoding":{"y2":{"datum":-299.5}}},
{"data":{"name":"R"},"mark":{"type":"line","color":"#000000","strokeWidth":2.6}},
{"data":{"values":[{"d":-0.615,"km":607},{"d":-0.615,"km":-324.9}]},"mark":{"type":"line","color":"#a83838","strokeWidth":2,"strokeDash":[4,4],"opacity":0.85}},
{"data":{"values":[{"d":0,"km":607},{"d":0,"km":-324.9}]},"mark":{"type":"line","color":"#111111","strokeWidth":1.6,"strokeDash":[5,4],"opacity":0.85}},
{"data":{"name":"tracks"},"mark":{"type":"line","color":"#111111","strokeWidth":1.6},"encoding":{"detail":{"field":"t"}}},
{"data":{"name":"dots"},"mark":{"type":"point","filled":true,"color":"#000000","opacity":1,"size":190}},
{"data":{"name":"stations"},"mark":{"type":"text","font":"Liberation Sans","fontSize":30,"color":"#1a1a1a","align":"center","baseline":"middle"},"encoding":{"text":{"field":"t"}}},
{"data":{"name":"lettersZY"},"mark":{"type":"text","font":"Liberation Sans","fontSize":25,"color":"#1a1a1a","align":"center","baseline":"middle"},"encoding":{"text":{"field":"t"}}},
{"data":{"name":"letters"},"mark":{"type":"text","font":"Liberation Sans","fontSize":28,"color":"#1a1a1a","align":"center","baseline":"middle"},"encoding":{"text":{"field":"t"}}},
{"data":{"name":"notes"},"mark":{"type":"text","font":"Liberation Sans","fontSize":28,"fontWeight":"bold","color":"#1a1a1a","align":"center","baseline":"middle"},"encoding":{"text":{"field":"t"}}},
{"data":{"name":"barlabels"},"mark":{"type":"text","font":"Liberation Sans","fontSize":23,"color":"#111111","align":"center","baseline":"middle"},"encoding":{"text":{"field":"t"}}}
]}
